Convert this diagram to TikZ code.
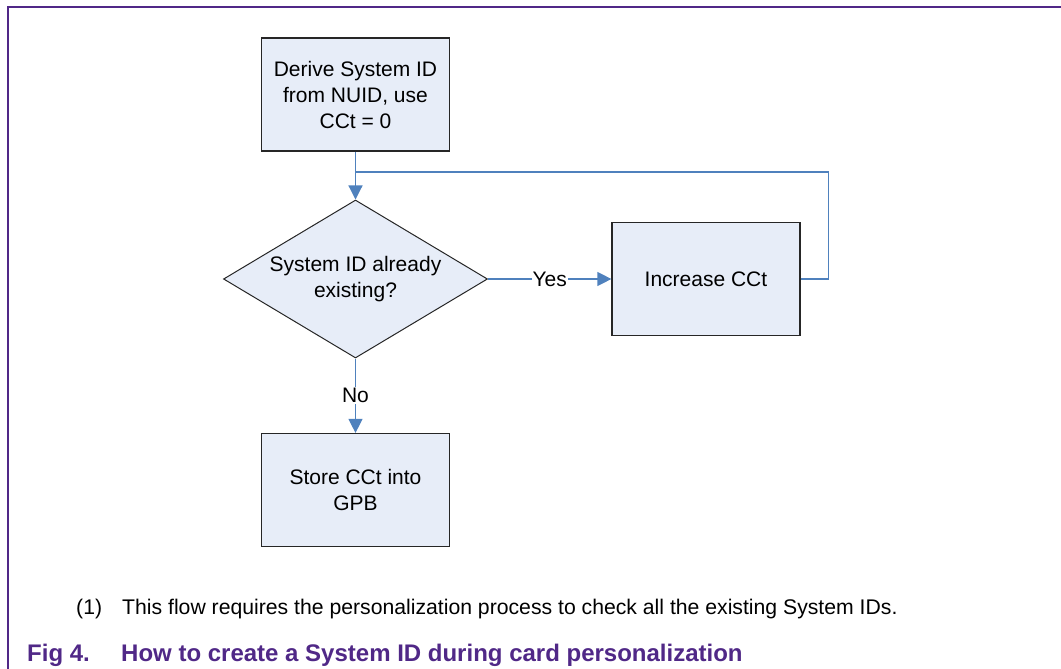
\documentclass[tikz,border=0pt]{standalone}
\usepackage{fontspec}
\setmainfont{Liberation Sans}
\usetikzlibrary{shapes.geometric,arrows.meta}
\definecolor{nxppurple}{RGB}{80,40,135}
\definecolor{flowblue}{RGB}{79,129,189}
\definecolor{boxfill}{RGB}{231,237,248}
\begin{document}
\begin{tikzpicture}[>={Triangle[length=14pt,width=14pt]}, x=1pt, y=-1pt,
    box/.style={draw=black!85, line width=1.2pt, fill=boxfill, minimum width=188pt, minimum height=113pt, align=center, font=\fontsize{21}{26}\selectfont},
    decision/.style={diamond, draw=black!85, line width=1pt, fill=boxfill, aspect=1.67, inner sep=0pt, minimum width=264pt, minimum height=158pt, align=center, font=\fontsize{21}{26}\selectfont},
    flow/.style={draw=flowblue, line width=1.2pt},
    lbl/.style={fill=white, inner sep=1pt, font=\fontsize{21}{26}\selectfont},
    note/.style={anchor=west, inner sep=0pt, font=\fontsize{21.2}{26}\selectfont},
    capt/.style={anchor=west, inner sep=0pt, text=nxppurple, font=\bfseries\fontsize{24}{28}\selectfont}]
    \useasboundingbox (0,0) rectangle (1061,669);
    % frame
    \draw[nxppurple, line width=1.5pt] (8,669) -- (8,7) -- (1061,7);

    % flow chart
    \node[box] (derive) at (355.5,94.5) {Derive System ID\\from NUID, use\\CCt = 0};
    \node[decision] (exists) at (355.5,279) {System ID already\\existing?};
    \node[box] (incr) at (706,279) {Increase CCt};
    \node[box] (store) at (355.5,490) {Store CCt into\\GPB};
    \coordinate (join) at (355.5,172);

    \draw[flow, ->] (derive) -- (exists);
    \draw[flow, ->] (exists) -- node[lbl] {Yes} (incr);
    \draw[flow, ->] (exists) -- node[lbl] {No} (store);
    \draw[flow] (incr.east) -- ++(28,0) |- (join);

    % footnote and caption
    \node[note] (fnnum) at (76,609) {(1)};
    \node[note] (fntext) at (122,609) {This flow requires the personalization process to check all the existing System IDs.};
    \node[capt] (fignum) at (27,655) {Fig 4.};
    \node[capt] (figtitle) at (121,655) {How to create a System ID during card personalization};
\end{tikzpicture}
\end{document}
